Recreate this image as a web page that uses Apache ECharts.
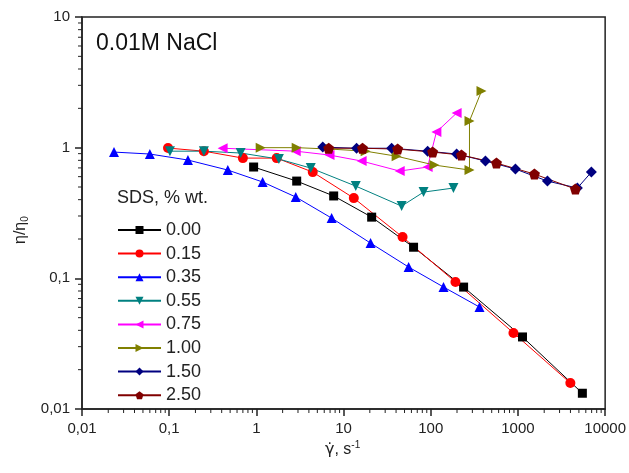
<!DOCTYPE html>
<html>
<head>
<meta charset="utf-8">
<script src="https://cdn.jsdelivr.net/npm/echarts@6/dist/echarts.min.js"></script>
<style>
  html, body { margin: 0; padding: 0; background: #fff; }
  #main { width: 629px; height: 473px; }
</style>
</head>
<body>
<div id="main"></div>
<script>
// SDS concentration, % wt.
var sdsNames = ['0.00', '0.15', '0.35', '0.55', '0.75', '1.00', '1.50', '2.50'];

// shear rate (1/s) and relative viscosity
var sds000 = [[0.93, 0.711], [2.9, 0.555], [7.7, 0.427], [21, 0.294], [63.5, 0.173], [238, 0.0857], [1127, 0.0356], [5480, 0.0132]];
var sds015 = [[0.097, 0.993], [0.25, 0.94], [0.70, 0.832], [1.71, 0.832], [4.43, 0.65], [13.1, 0.411], [47.5, 0.207], [192, 0.0937], [888, 0.0382], [3990, 0.0158]];
var sds035 = [[0.0233, 0.925], [0.060, 0.894], [0.164, 0.804], [0.47, 0.674], [1.18, 0.546], [2.83, 0.419], [7.3, 0.289], [20.4, 0.186], [55.7, 0.122], [140, 0.0858], [362, 0.0603]];
var sds055 = [[0.102, 0.94], [0.25, 0.94], [0.66, 0.91], [1.81, 0.818], [4.2, 0.698], [13.8, 0.508], [46.3, 0.357], [82.7, 0.457], [182, 0.491]];
var sds075 = [[0.41, 0.99], [2.83, 0.94], [6.9, 0.878], [16.1, 0.79], [44, 0.662], [92, 0.711], [116, 1.316], [198, 1.84]];
var sds100 = [[1.12, 1.0], [2.9, 1.0], [7.1, 0.975], [17.9, 0.94], [40.6, 0.86], [110, 0.736], [278, 0.674], [278, 1.60], [382, 2.71]];
var sds150 = [[5.77, 1.01], [14.1, 0.99], [35.6, 0.99], [92, 0.94], [198, 0.894], [424, 0.79], [936, 0.686], [2178, 0.555], [4806, 0.491], [6950, 0.65]];
var sds250 = [[6.75, 0.99], [16.5, 0.99], [41.7, 0.975], [105, 0.925], [225, 0.878], [567, 0.762], [1545, 0.628], [4560, 0.482]];

var allData = [sds000, sds015, sds035, sds055, sds075, sds100, sds150, sds250];

// decades of the axes
var xDecades = [0.01, 0.1, 1, 10, 100, 1000, 10000];
var yDecades = [0.01, 0.1, 1, 10];

var colors = ['#000000', '#ff0000', '#0000ff', '#008080', '#ff00ff', '#808000', '#000080', '#800000'];
var pentagon = 'path://M50,0 L97.6,34.5 L79.4,90.5 L20.6,90.5 L2.4,34.5 Z';
var symbols = ['rect', 'circle', 'triangle', 'triangle', 'triangle', 'triangle', 'diamond', pentagon];
var rotates = [0, 0, 0, 180, 90, -90, 0, 0];
var sizes = [9, 10, 10, 10, 10, 10, 11, 11];

function fmt(v) {
    return String(+(+v).toPrecision(3)).replace('.', ',');
}

// 2..9 inside every decade (minor ticks)
function minorTicks(decades) {
    var out = [];
    for (var d = 0; d < decades.length - 1; d++) {
        for (var k = 2; k <= 9; k++) {
            out.push(+(decades[d] * k).toPrecision(3));
        }
    }
    return out;
}

var xMin = xDecades[0], xMax = xDecades[xDecades.length - 1];
var yMin = yDecades[0], yMax = yDecades[yDecades.length - 1];
var lineCol = '#222';
var axisFont = 'Liberation Sans, Arial, sans-serif';

var myChart = echarts.init(document.getElementById('main'));

var series = [];
for (var i = 0; i < allData.length; i++) {
    series.push({
        name: sdsNames[i],
        type: 'line',
        data: allData[i],
        symbol: symbols[i],
        symbolSize: sizes[i],
        symbolRotate: rotates[i],
        showAllSymbol: true,
        itemStyle: { color: colors[i] },
        lineStyle: { color: colors[i], width: 1 },
        emphasis: { disabled: true },
        animation: false
    });
}

function mainAxis(lo, hi) {
    return {
        type: 'log', logBase: 10, min: lo, max: hi,
        axisLine: { show: true, onZero: false, lineStyle: { color: lineCol, width: 1.5 } },
        axisTick: { show: true, length: 7, lineStyle: { color: lineCol, width: 1.5 } },
        splitLine: { show: false },
        axisLabel: { fontSize: 15, color: lineCol, margin: 12, fontFamily: axisFont, formatter: fmt }
    };
}

var xMain = mainAxis(xMin, xMax);
xMain.splitNumber = 6;
var yMain = mainAxis(yMin, yMax);
yMain.splitNumber = 3;

var texts = [
    {
        type: 'text', left: 96, top: 32,
        style: { text: '0.01M NaCl', fontSize: 23, fill: '#111', fontFamily: axisFont }
    },
    {
        type: 'text', left: 117, top: 189,
        style: { text: 'SDS, % wt.', fontSize: 18, fill: lineCol, fontFamily: axisFont }
    },
    {
        type: 'text', left: 325, top: 440,
        style: {
            text: '{g|\u03B3\u0307}{t|, s}{s|-1}',
            fill: lineCol,
            fontFamily: axisFont,
            rich: {
                g: { fontSize: 16, fontFamily: 'DejaVu Sans' },
                t: { fontSize: 16, fontFamily: axisFont },
                s: { fontSize: 10, fontFamily: axisFont, verticalAlign: 'top', padding: [0, 0, 10, 0] }
            }
        }
    },
    {
        type: 'text', x: 12, y: 244, rotation: Math.PI / 2,
        style: {
            text: '{a|\u03B7/\u03B7}{b|0}',
            fill: lineCol,
            rich: {
                a: { fontSize: 16, fontFamily: axisFont },
                b: { fontSize: 10, fontFamily: axisFont, padding: [8, 0, 0, 0] }
            }
        }
    }
];

option = {
    animation: false,
    grid: {
        left: 82, right: 23, top: 17, bottom: 64,
        show: true, borderColor: lineCol, borderWidth: 1.5, backgroundColor: 'transparent'
    },
    xAxis: xMain,
    yAxis: yMain,
    legend: {
        orient: 'vertical',
        left: 117,
        top: 221,
        padding: 0,
        itemWidth: 43,
        itemHeight: 10,
        itemGap: 5.6,
        data: sdsNames,
        textStyle: { fontSize: 18, color: lineCol, fontFamily: axisFont },
        selectedMode: false
    },
    graphic: texts,
    series: series
};

myChart.setOption(option);

// minor ticks: place them with the chart's own log scales
try {
    var ticks = [];
    minorTicks(xDecades).forEach(function (v) {
        var p = myChart.convertToPixel({ gridIndex: 0 }, [v, yMin]);
        ticks.push({ type: 'rect', shape: { x: p[0] - 0.5, y: p[1], width: 1, height: 4 }, style: { fill: lineCol } });
    });
    minorTicks(yDecades).forEach(function (v) {
        var p = myChart.convertToPixel({ gridIndex: 0 }, [xMin, v]);
        ticks.push({ type: 'rect', shape: { x: p[0] - 4, y: p[1] - 0.5, width: 4, height: 1 }, style: { fill: lineCol } });
    });
    myChart.setOption({ graphic: texts.concat(ticks) });
} catch (e) {
    console.log(e);
}
</script>
</body>
</html>
